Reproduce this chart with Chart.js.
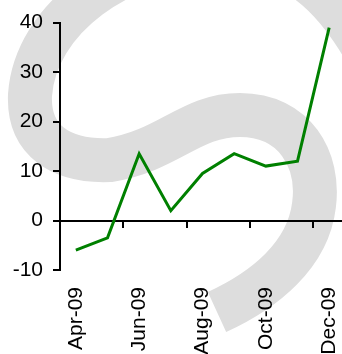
<!DOCTYPE html>
<html>
<head>
<meta charset="utf-8">
<script src="https://cdn.jsdelivr.net/npm/chart.js@4/dist/chart.umd.min.js"></script>
<style>
    html, body { margin: 0; padding: 0; background: #fff; overflow: hidden; }
    #wrap { width: 345px; height: 354px; position: relative; }
</style>
</head>
<body>
<div id="wrap"><canvas id="lineChart"></canvas></div>
<script>
const months = ['Apr-09', 'May-09', 'Jun-09', 'Jul-09', 'Aug-09', 'Sep-09', 'Oct-09', 'Nov-09', 'Dec-09'];
const values = [-6, -3.5, 13.5, 2, 9.5, 13.5, 11, 12, 39];
const yTicks = [-10, 0, 10, 20, 30, 40];

Chart.defaults.font.family = 'Arial, "Liberation Sans", sans-serif';
Chart.defaults.color = '#000';

// big grey "S" behind the plot
const watermark = {
    id: 'watermark',
    beforeDraw(chart) {
        const ctx = chart.ctx;
        ctx.save();
        ctx.strokeStyle = '#dddddd';
        ctx.lineWidth = 44;
        ctx.lineCap = 'butt';
        ctx.beginPath();
        ctx.moveTo(365, 50);
        ctx.bezierCurveTo(330, -10, 290, -45, 220, -45);
        ctx.bezierCurveTo(120, -45, 35, 20, 30, 95);
        ctx.bezierCurveTo(28, 140, 60, 162, 110, 160);
        ctx.bezierCurveTo(170, 150, 190, 115, 240, 115);
        ctx.bezierCurveTo(295, 115, 320, 160, 314, 205);
        ctx.bezierCurveTo(308, 255, 265, 290, 217, 312);
        ctx.stroke();
        ctx.restore();
    }
};

function makeChart(canvas) {
    return new Chart(canvas, {
        type: 'line',
        data: {
            labels: months,
            datasets: [{
                data: values,
                borderColor: '#008000',
                borderWidth: 3,
                pointRadius: 0,
                tension: 0,
                xAxisID: 'x',
                yAxisID: 'y'
            }]
        },
        options: {
            responsive: true,
            maintainAspectRatio: false,
            animation: false,
            layout: { padding: { top: 20, left: 0, right: 0, bottom: 0 } },
            plugins: { legend: { display: false }, tooltip: { enabled: false } },
            scales: {
                x: {
                    type: 'category',
                    position: 'bottom',
                    offset: true,
                    grid: { display: false, drawTicks: false },
                    border: { display: false },
                    ticks: {
                        autoSkip: false,
                        minRotation: 90,
                        maxRotation: 90,
                        padding: 17,
                        font: { size: 21 },
                        callback: function (v, i) { return i % 2 === 0 ? months[i] : ''; }
                    },
                    afterFit: function (s) {
                        s.height = 84;
                        s.paddingLeft = 0;
                        s.paddingRight = 0;
                    }
                },
                x2: {
                    type: 'category',
                    axis: 'x',
                    position: { y: 0 },
                    offset: true,
                    ticks: { display: false },
                    border: { display: true, color: '#000', width: 2 },
                    grid: {
                        display: true,
                        drawOnChartArea: false,
                        drawTicks: true,
                        tickLength: 6,
                        offset: true,
                        lineWidth: 2,
                        color: function (c) { return c.index % 2 === 0 ? '#000' : 'rgba(0,0,0,0)'; }
                    }
                },
                y: {
                    min: yTicks[0],
                    max: yTicks[yTicks.length - 1],
                    ticks: { stepSize: 10, padding: 10, font: { size: 21 } },
                    grid: { drawOnChartArea: false, drawTicks: true, tickLength: 7, color: '#000', lineWidth: 2 },
                    border: { color: '#000', width: 2 },
                    afterFit: function (s) { s.width = 60; }
                }
            }
        },
        plugins: [watermark]
    });
}

window.onload = function () {
    this.lineChart = makeChart(document.getElementById('lineChart').getContext('2d'));
}
</script>
</body>
</html>
